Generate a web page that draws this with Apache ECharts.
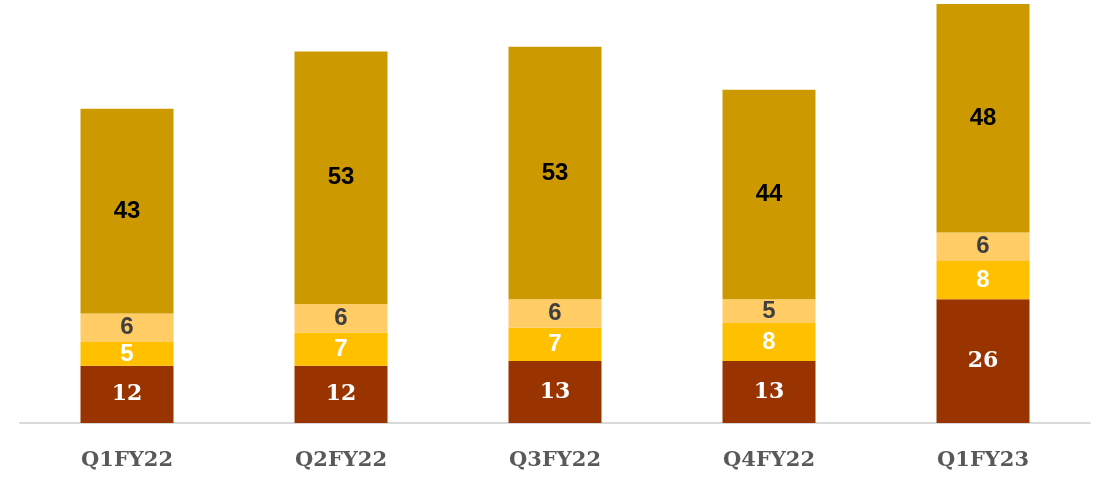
<!DOCTYPE html>
<html>
<head>
<meta charset="utf-8">
<script src="https://cdn.jsdelivr.net/npm/echarts@6/dist/echarts.min.js"></script>
<style>
  html, body { margin: 0; padding: 0; background: #fff; }
  #chart { width: 1097px; height: 478px; }
</style>
</head>
<body>
<div id="chart"></div>
<script>
var quarters = ['Q1FY22', 'Q2FY22', 'Q3FY22', 'Q4FY22', 'Q1FY23']
var bottomVals = [12, 12, 13, 13, 26]
var yellowVals = [5, 7, 7, 8, 8]
var lightVals = [6, 6, 6, 5, 6]
var topVals = [43, 53, 53, 44, 48]

var chart = echarts.init(document.getElementById('chart'))

function seg(data, color, labelColor, font, size) {
    return {
        type: 'bar',
        stack: 'total',
        barWidth: 93,
        data: data,
        itemStyle: { color: color },
        label: {
            show: true,
            position: 'inside',
            color: labelColor,
            fontFamily: font,
            fontWeight: 'bold',
            fontSize: size
        }
    }
}

chart.setOption({
    animation: false,
    grid: { left: 20, right: 7, top: 4, bottom: 55 },
    xAxis: {
        type: 'category',
        data: quarters,
        axisTick: { show: false },
        axisLine: { lineStyle: { color: '#d9d9d9', width: 2 } },
        axisLabel: {
            color: '#595959',
            fontFamily: 'DejaVu Serif',
            fontWeight: 'bold',
            fontSize: 21,
            margin: 27
        }
    },
    yAxis: {
        type: 'value',
        min: 0,
        max: 88,
        show: false,
        splitLine: { show: false }
    },
    series: [
        seg(bottomVals, '#993300', '#ffffff', 'DejaVu Serif', 22),
        seg(yellowVals, '#ffc000', '#ffffff', 'Liberation Sans', 24),
        seg(lightVals, '#ffcc66', '#404040', 'Liberation Sans', 24),
        seg(topVals, '#cc9900', '#000000', 'Liberation Sans', 24)
    ]
})
</script>
</body>
</html>
